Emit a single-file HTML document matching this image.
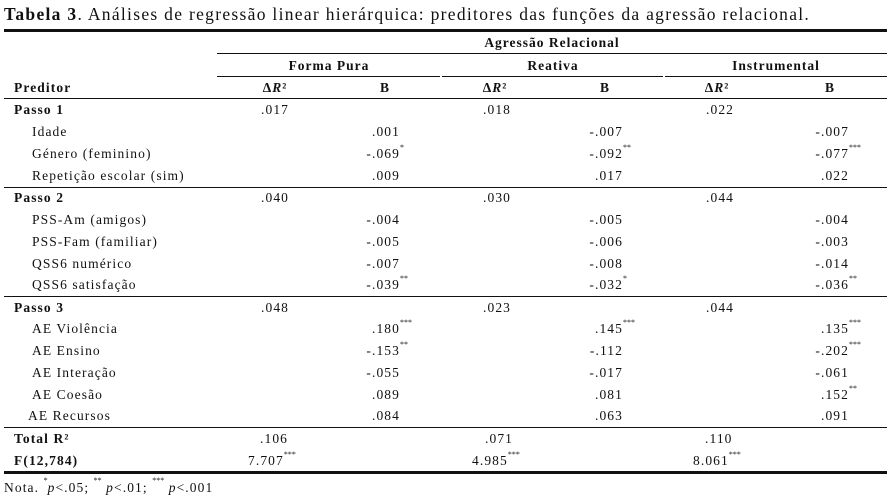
<!DOCTYPE html>
<html><head><meta charset="utf-8"><style>
body{margin:0;width:894px;height:499px;background:#fff;position:relative;overflow:hidden;font-family:"Liberation Serif","DejaVu Serif",serif;color:#111}
.t{position:absolute;font-size:13.5px;line-height:16px;white-space:nowrap;letter-spacing:1.1px}
.b{font-weight:bold}
.r{position:absolute;font-size:13.5px;line-height:16px;white-space:nowrap;text-align:right;letter-spacing:1.1px}
.r sup,.t sup{position:absolute;left:100%;top:-2px;font-size:8px;line-height:8px;letter-spacing:0}
.c{position:absolute;font-size:13.5px;line-height:16px;white-space:nowrap;text-align:center;font-weight:bold;letter-spacing:1px}
.h{position:absolute;height:1px;background:#111}
</style></head><body>
<div class="t" style="left:4px;top:4px;font-size:17.5px;line-height:20px;letter-spacing:1.3px"><b>Tabela 3</b>. Análises de regressão linear hierárquica: preditores das funções da agressão relacional.</div>
<div class="h" style="left:4px;top:29px;width:883px;height:3px"></div>
<div class="c" style="left:217px;width:670px;top:35px">Agressão Relacional</div>
<div class="h" style="left:217px;top:53px;width:670px"></div>
<div class="c" style="left:217px;width:224px;top:58px">Forma Pura</div>
<div class="c" style="left:442px;width:222px;top:58px">Reativa</div>
<div class="c" style="left:665px;width:222px;top:58px">Instrumental</div>
<div class="h" style="left:217px;top:76px;width:223px"></div>
<div class="h" style="left:442px;top:76px;width:221px"></div>
<div class="h" style="left:665px;top:76px;width:222px"></div>
<div class="t b" style="left:14px;top:80px">Preditor</div>
<div class="c" style="left:245px;width:60px;top:80px">Δ<i>R</i>²</div>
<div class="c" style="left:355px;width:60px;top:80px">B</div>
<div class="c" style="left:465px;width:60px;top:80px">Δ<i>R</i>²</div>
<div class="c" style="left:575px;width:60px;top:80px">B</div>
<div class="c" style="left:687px;width:60px;top:80px">Δ<i>R</i>²</div>
<div class="c" style="left:800px;width:60px;top:80px">B</div>
<div class="h" style="left:4px;top:98px;width:883px"></div>

<div class="t b" style="left:14px;top:102px">Passo 1</div>
<div class="t" style="left:261px;top:102px">.017</div><div class="t" style="left:483px;top:102px">.018</div><div class="t" style="left:706px;top:102px">.022</div>
<div class="t" style="left:32px;top:124px">Idade</div>
<div class="t" style="left:32px;top:146px">Género (feminino)</div>
<div class="t" style="left:32px;top:168px">Repetição escolar (sim)</div>
<div class="r" style="right:494px;top:124px">.001</div><div class="r" style="right:271px;top:124px">-.007</div><div class="r" style="right:45px;top:124px">-.007</div>
<div class="r" style="right:494px;top:146px">-.069<sup>*</sup></div><div class="r" style="right:271px;top:146px">-.092<sup>**</sup></div><div class="r" style="right:45px;top:146px">-.077<sup>***</sup></div>
<div class="r" style="right:494px;top:168px">.009</div><div class="r" style="right:271px;top:168px">.017</div><div class="r" style="right:45px;top:168px">.022</div>
<div class="h" style="left:4px;top:187px;width:883px"></div>

<div class="t b" style="left:14px;top:190px">Passo 2</div>
<div class="t" style="left:261px;top:190px">.040</div><div class="t" style="left:483px;top:190px">.030</div><div class="t" style="left:706px;top:190px">.044</div>
<div class="t" style="left:32px;top:212px">PSS-Am (amigos)</div>
<div class="t" style="left:32px;top:234px">PSS-Fam (familiar)</div>
<div class="t" style="left:32px;top:256px">QSS6 numérico</div>
<div class="t" style="left:32px;top:277px">QSS6 satisfação</div>
<div class="r" style="right:494px;top:212px">-.004</div><div class="r" style="right:271px;top:212px">-.005</div><div class="r" style="right:45px;top:212px">-.004</div>
<div class="r" style="right:494px;top:234px">-.005</div><div class="r" style="right:271px;top:234px">-.006</div><div class="r" style="right:45px;top:234px">-.003</div>
<div class="r" style="right:494px;top:256px">-.007</div><div class="r" style="right:271px;top:256px">-.008</div><div class="r" style="right:45px;top:256px">-.014</div>
<div class="r" style="right:494px;top:277px">-.039<sup>**</sup></div><div class="r" style="right:271px;top:277px">-.032<sup>*</sup></div><div class="r" style="right:45px;top:277px">-.036<sup>**</sup></div>
<div class="h" style="left:4px;top:296px;width:883px"></div>

<div class="t b" style="left:14px;top:300px">Passo 3</div>
<div class="t" style="left:261px;top:300px">.048</div><div class="t" style="left:483px;top:300px">.023</div><div class="t" style="left:706px;top:300px">.044</div>
<div class="t" style="left:32px;top:321px">AE Violência</div>
<div class="t" style="left:32px;top:343px">AE Ensino</div>
<div class="t" style="left:32px;top:365px">AE Interação</div>
<div class="t" style="left:32px;top:387px">AE Coesão</div>
<div class="t" style="left:28px;top:408px">AE Recursos</div>
<div class="r" style="right:494px;top:321px">.180<sup>***</sup></div><div class="r" style="right:271px;top:321px">.145<sup>***</sup></div><div class="r" style="right:45px;top:321px">.135<sup>***</sup></div>
<div class="r" style="right:494px;top:343px">-.153<sup>**</sup></div><div class="r" style="right:271px;top:343px">-.112</div><div class="r" style="right:45px;top:343px">-.202<sup>***</sup></div>
<div class="r" style="right:494px;top:365px">-.055</div><div class="r" style="right:271px;top:365px">-.017</div><div class="r" style="right:45px;top:365px">-.061</div>
<div class="r" style="right:494px;top:387px">.089</div><div class="r" style="right:271px;top:387px">.081</div><div class="r" style="right:45px;top:387px">.152<sup>**</sup></div>
<div class="r" style="right:494px;top:408px">.084</div><div class="r" style="right:271px;top:408px">.063</div><div class="r" style="right:45px;top:408px">.091</div>
<div class="h" style="left:4px;top:427px;width:883px"></div>

<div class="t b" style="left:14px;top:431px">Total R²</div>
<div class="t b" style="left:14px;top:453px">F(12,784)</div>
<div class="t" style="left:260px;top:431px">.106</div><div class="t" style="left:485px;top:431px">.071</div><div class="t" style="left:705px;top:431px">.110</div>
<div class="t" style="left:248px;top:453px">7.707<sup>***</sup></div><div class="t" style="left:472px;top:453px">4.985<sup>***</sup></div><div class="t" style="left:693px;top:453px">8.061<sup>***</sup></div>
<div class="h" style="left:4px;top:471px;width:883px;height:3px"></div>
<div class="t" style="left:4px;top:480px">Nota. <sup style="position:relative;left:0;top:-4px">*</sup><i>p</i>&lt;.05; <sup style="position:relative;left:0;top:-4px">**</sup> <i>p</i>&lt;.01; <sup style="position:relative;left:0;top:-4px">***</sup> <i>p</i>&lt;.001</div>
</body></html>
